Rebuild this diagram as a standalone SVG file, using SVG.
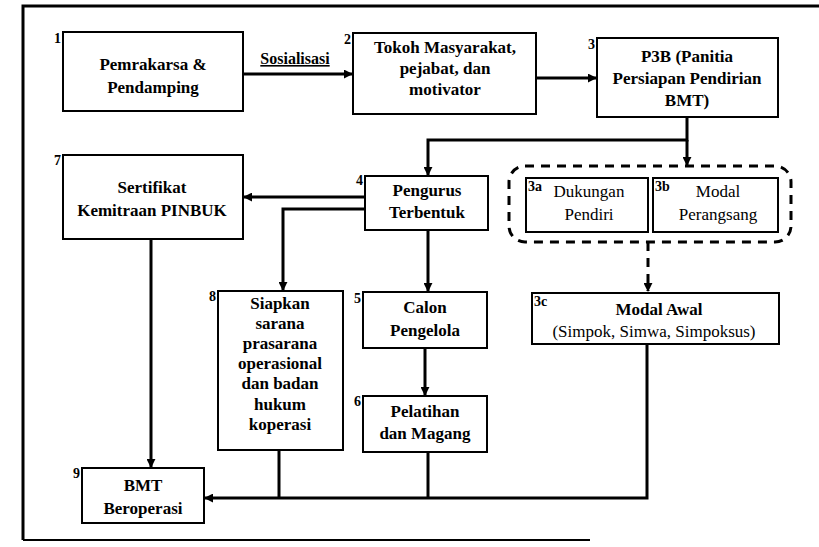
<svg xmlns="http://www.w3.org/2000/svg" width="819" height="547" viewBox="0 0 819 547" font-family="Liberation Serif, Times New Roman, serif">
<defs>
<style>
.box{fill:#fff;stroke:#000;stroke-width:2}
.t{font-size:17px;font-weight:bold;text-anchor:middle}
.r{font-size:17px;font-weight:normal;text-anchor:middle}
.n{font-size:14px;font-weight:bold}
.ne{font-size:14px;font-weight:bold;text-anchor:end}
.c{fill:none;stroke:#000;stroke-width:3}
.d{fill:none;stroke:#000;stroke-width:3;stroke-dasharray:9 7}
</style>
<marker id="ah" viewBox="0 0 10 10" refX="9" refY="5" markerWidth="3.2" markerHeight="3" orient="auto" markerUnits="strokeWidth">
<path d="M0,0 L10,5 L0,10 z" fill="#000"/>
</marker>
</defs>
<rect width="819" height="547" fill="#fff"/>
<g id="frame">
<path d="M23,540 L23,6 L819,6" fill="none" stroke="#000" stroke-width="3"/>
<path d="M23,540 L590,540" fill="none" stroke="#000" stroke-width="2"/>
</g>
<g id="connectors">
<path class="c" d="M243,74 L352,74" marker-end="url(#ah)"/>
<text class="t" x="295" y="64" text-decoration="underline" style="font-size:16px">Sosialisasi</text>
<path class="c" d="M536,78 L596,78" marker-end="url(#ah)"/>
<path class="c" d="M687,117 L687,140 L428,140 L428,175" marker-end="url(#ah)"/>
<path class="c" d="M687,140 L687,165" marker-end="url(#ah)"/>
<path class="c" d="M365,197 L244,197" marker-end="url(#ah)"/>
<path class="c" d="M365,209 L283,209 L283,290" marker-end="url(#ah)"/>
<path class="c" d="M151,239 L151,467" marker-end="url(#ah)"/>
<path class="c" d="M428,230 L428,291" marker-end="url(#ah)"/>
<path class="c" d="M425,348 L425,395" marker-end="url(#ah)"/>
<path class="d" d="M648,242 L648,291" marker-end="url(#ah)"/>
<path class="c" d="M279,450 L279,498"/>
<path class="c" d="M428,452 L428,498"/>
<path class="c" d="M647,344 L647,498 L205,498" marker-end="url(#ah)"/>
</g>
<g id="n1">
<rect class="box" x="63" y="32" width="180" height="79"/>
<text class="ne" x="61" y="43">1</text>
<text class="t" x="153" y="70">Pemrakarsa &amp;</text>
<text class="t" x="153" y="93">Pendamping</text>
</g>
<g id="n2">
<rect class="box" x="353" y="33" width="183" height="81"/>
<text class="ne" x="351" y="44">2</text>
<text class="t" x="445" y="53">Tokoh Masyarakat,</text>
<text class="t" x="445" y="74">pejabat, dan</text>
<text class="t" x="445" y="95">motivator</text>
</g>
<g id="n3">
<rect class="box" x="597" y="38" width="181" height="79"/>
<text class="ne" x="595" y="49">3</text>
<text class="t" x="687" y="62">P3B (Panitia</text>
<text class="t" x="687" y="84">Persiapan Pendirian</text>
<text class="t" x="687" y="106">BMT)</text>
</g>
<g id="n3group">
<rect class="d" x="509" y="166" width="282" height="76" rx="16"/>
</g>
<g id="n3a">
<rect class="box" x="526" y="178" width="122" height="54"/>
<text class="n" x="528" y="191">3a</text>
<text class="r" x="589" y="197">Dukungan</text>
<text class="r" x="589" y="220">Pendiri</text>
</g>
<g id="n3b">
<rect class="box" x="653" y="178" width="125" height="54"/>
<text class="n" x="655" y="191">3b</text>
<text class="r" x="718" y="197">Modal</text>
<text class="r" x="718" y="220">Perangsang</text>
</g>
<g id="n3c">
<rect class="box" x="532" y="293" width="247" height="51"/>
<text class="n" x="534" y="306">3c</text>
<text class="t" x="659" y="315">Modal Awal</text>
<text class="r" x="654" y="337">(Simpok, Simwa, Simpoksus)</text>
</g>
<g id="n4">
<rect class="box" x="365" y="176" width="123" height="54"/>
<text class="ne" x="363" y="185">4</text>
<text class="t" x="427" y="196">Pengurus</text>
<text class="t" x="427" y="218">Terbentuk</text>
</g>
<g id="n7">
<rect class="box" x="63" y="155" width="180" height="84"/>
<text class="ne" x="61" y="165">7</text>
<text class="t" x="152" y="193">Sertifikat</text>
<text class="t" x="152" y="216">Kemitraan PINBUK</text>
</g>
<g id="n8">
<rect class="box" x="218" y="291" width="125" height="159"/>
<text class="ne" x="216" y="301">8</text>
<text class="t" x="280" y="309">Siapkan</text>
<text class="t" x="280" y="329">sarana</text>
<text class="t" x="280" y="349">prasarana</text>
<text class="t" x="280" y="369">operasional</text>
<text class="t" x="280" y="389">dan badan</text>
<text class="t" x="280" y="410">hukum</text>
<text class="t" x="280" y="430">koperasi</text>
</g>
<g id="n5">
<rect class="box" x="363" y="292" width="124" height="56"/>
<text class="ne" x="361" y="303">5</text>
<text class="t" x="425" y="313">Calon</text>
<text class="t" x="425" y="336">Pengelola</text>
</g>
<g id="n6">
<rect class="box" x="363" y="396" width="124" height="56"/>
<text class="ne" x="361" y="406">6</text>
<text class="t" x="425" y="417">Pelatihan</text>
<text class="t" x="425" y="439">dan Magang</text>
</g>
<g id="n9">
<rect class="box" x="82" y="468" width="122" height="55"/>
<text class="ne" x="80" y="478">9</text>
<text class="t" x="143" y="491">BMT</text>
<text class="t" x="143" y="514">Beroperasi</text>
</g>
</svg>
